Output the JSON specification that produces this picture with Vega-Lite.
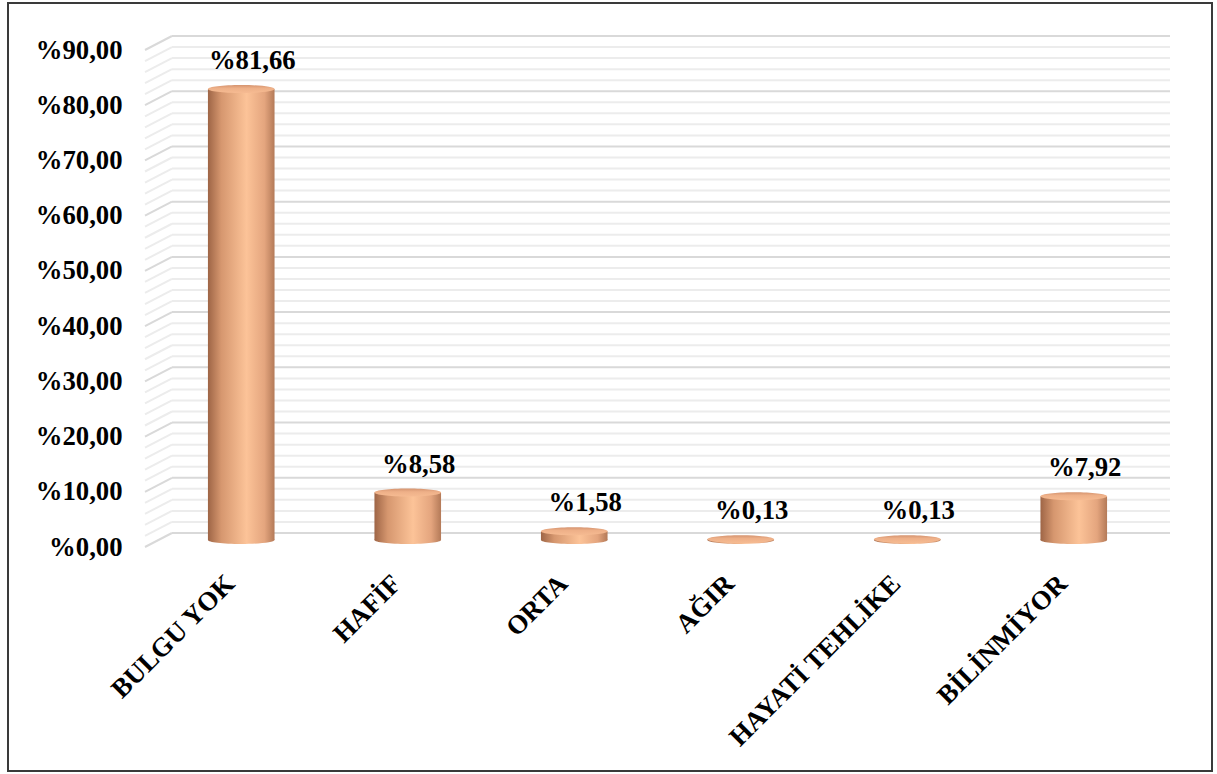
{
  "$schema": "https://vega.github.io/schema/vega-lite/v6.json",
  "autosize": {"type": "none"},
  "padding": {"left": 8, "top": 3, "right": 5, "bottom": 3},
  "width": 1204,
  "height": 768,
  "background": "white",
  "config": {
    "view": {"stroke": "#3a3a3a", "strokeWidth": 2},
    "font": "Liberation Serif",
    "locale": {"number": {"decimal": ",", "thousands": ".", "grouping": [3], "currency": ["%", ""]}}
  },
  "datasets": {
    "major": [{"v": 0}, {"v": 10}, {"v": 20}, {"v": 30}, {"v": 40}, {"v": 50}, {"v": 60}, {"v": 70}, {"v": 80}, {"v": 90}],
    "minor": [{"v": 2}, {"v": 4}, {"v": 6}, {"v": 8}, {"v": 12}, {"v": 14}, {"v": 16}, {"v": 18}, {"v": 22}, {"v": 24}, {"v": 26}, {"v": 28}, {"v": 32}, {"v": 34}, {"v": 36}, {"v": 38}, {"v": 42}, {"v": 44}, {"v": 46}, {"v": 48}, {"v": 52}, {"v": 54}, {"v": 56}, {"v": 58}, {"v": 62}, {"v": 64}, {"v": 66}, {"v": 68}, {"v": 72}, {"v": 74}, {"v": 76}, {"v": 78}, {"v": 82}, {"v": 84}, {"v": 86}, {"v": 88}],
    "bars": [
      {"cat": "BULGU YOK", "value": 81.66},
      {"cat": "HAFİF", "value": 8.58},
      {"cat": "ORTA", "value": 1.58},
      {"cat": "AĞIR", "value": 0.13},
      {"cat": "HAYATİ TEHLİKE", "value": 0.13},
      {"cat": "BİLİNMİYOR", "value": 7.92}
    ]
  },
  "resolve": {"scale": {"x": "independent"}, "axis": {"x": "independent", "y": "independent"}},
  "layer": [
    {
      "data": {"name": "minor"},
      "resolve": {"axis": {"x": "independent", "y": "independent"}},
      "layer": [
        {
          "mark": {"type": "rule", "color": "#ececec", "strokeWidth": 2, "yOffset": -14},
          "encoding": {
            "x": {"datum": 0.0263, "type": "quantitative", "scale": {"domain": [0, 1], "range": [137, 1162]}, "axis": null},
            "x2": {"datum": 1},
            "y": {"field": "v", "type": "quantitative", "scale": {"domain": [0, 90], "range": [544, 47], "nice": false, "zero": false}, "axis": null}
          }
        },
        {
          "mark": {"type": "rule", "color": "#ececec", "strokeWidth": 2, "y2Offset": -14},
          "encoding": {
            "x": {"datum": 0, "type": "quantitative", "scale": {"domain": [0, 1], "range": [137, 1162]}, "axis": null},
            "x2": {"datum": 0.0263},
            "y": {"field": "v", "type": "quantitative", "axis": null},
            "y2": {"field": "v"}
          }
        }
      ]
    },
    {
      "data": {"name": "major"},
      "resolve": {"axis": {"x": "independent", "y": "independent"}},
      "layer": [
        {
          "mark": {"type": "rule", "color": "#d9d9d9", "strokeWidth": 2, "yOffset": -14},
          "encoding": {
            "x": {"datum": 0.0263, "type": "quantitative", "scale": {"domain": [0, 1], "range": [137, 1162]}, "axis": null},
            "x2": {"datum": 1},
            "y": {"field": "v", "type": "quantitative", "axis": null}
          }
        },
        {
          "mark": {"type": "rule", "color": "#d9d9d9", "strokeWidth": 2, "y2Offset": -14},
          "encoding": {
            "x": {"datum": 0, "type": "quantitative", "scale": {"domain": [0, 1], "range": [137, 1162]}, "axis": null},
            "x2": {"datum": 0.0263},
            "y": {"field": "v", "type": "quantitative", "axis": null},
            "y2": {"field": "v"}
          }
        }
      ]
    },
    {
      "data": {"name": "bars"},
      "resolve": {"axis": {"y": "independent"}},
      "encoding": {
        "x": {
          "field": "cat", "type": "nominal", "sort": null,
          "scale": {"range": [137, 1162], "paddingInner": 0.6, "paddingOuter": 0.378},
          "axis": {
            "title": null, "orient": "bottom", "offset": -201, "domain": false, "ticks": false, "tickSize": 0,
            "labelPadding": 0, "labelAngle": -45, "labelOffset": -20, "labelFont": "Liberation Serif", "labelFontWeight": "bold",
            "labelFontSize": 26.7, "labelColor": "#000000", "labelLimit": 400
          }
        }
      },
      "layer": [
        {
          "mark": {"type": "bar", "yOffset": -7, "y2Offset": -7,
            "fill": {"gradient": "linear", "x1": 0, "x2": 1, "y1": 0, "y2": 0,
              "stops": [{"offset": 0, "color": "#9e6546"}, {"offset": 0.2, "color": "#d6976f"}, {"offset": 0.58, "color": "#fcc398"}, {"offset": 0.85, "color": "#e4a57e"}, {"offset": 1, "color": "#b47a58"}]}},
          "encoding": {
            "y": {"field": "value", "type": "quantitative",
              "axis": {
                "title": null, "orient": "left", "offset": -114, "domain": false, "ticks": false, "tickSize": 0,
                "labelPadding": 0, "grid": false, "values": [0, 10, 20, 30, 40, 50, 60, 70, 80, 90],
                "format": "$.2f", "labelOverlap": false, "labelFlush": false,
                "labelFont": "Liberation Serif", "labelFontWeight": "bold", "labelFontSize": 26.7, "labelColor": "#000000"
              }
            },
            "y2": {"datum": 0}
          }
        },
        {
          "mark": {"type": "point", "filled": true, "opacity": 1, "size": 4436, "yOffset": -7,
            "shape": "M-1,0A1,0.12,0,1,1,1,0A1,0.12,0,1,1,-1,0Z",
            "fill": {"gradient": "linear", "x1": 0, "x2": 1, "y1": 0, "y2": 0,
              "stops": [{"offset": 0, "color": "#9e6546"}, {"offset": 0.2, "color": "#d6976f"}, {"offset": 0.58, "color": "#fcc398"}, {"offset": 0.85, "color": "#e4a57e"}, {"offset": 1, "color": "#b47a58"}]}},
          "encoding": {"y": {"datum": 0, "type": "quantitative", "axis": null}}
        },
        {
          "mark": {"type": "point", "filled": true, "opacity": 1, "size": 4436, "yOffset": -7,
            "shape": "M-1,0A1,0.12,0,1,1,1,0A1,0.12,0,1,1,-1,0Z",
            "fill": {"gradient": "linear", "x1": 0, "x2": 0, "y1": 0, "y2": 1,
              "stops": [{"offset": 0, "color": "#d59470"}, {"offset": 0.4, "color": "#eeb088"}, {"offset": 1, "color": "#f6bb92"}]}},
          "encoding": {"y": {"field": "value", "type": "quantitative", "axis": null}}
        },
        {
          "mark": {"type": "text", "font": "Liberation Serif", "fontWeight": "bold", "fontSize": 26.7, "color": "#000000",
            "baseline": "middle", "align": "center", "yOffset": -35, "xOffset": 11},
          "encoding": {
            "y": {"field": "value", "type": "quantitative", "axis": null},
            "text": {"field": "value", "type": "quantitative", "format": "$.2f"}
          }
        }
      ]
    }
  ]
}
